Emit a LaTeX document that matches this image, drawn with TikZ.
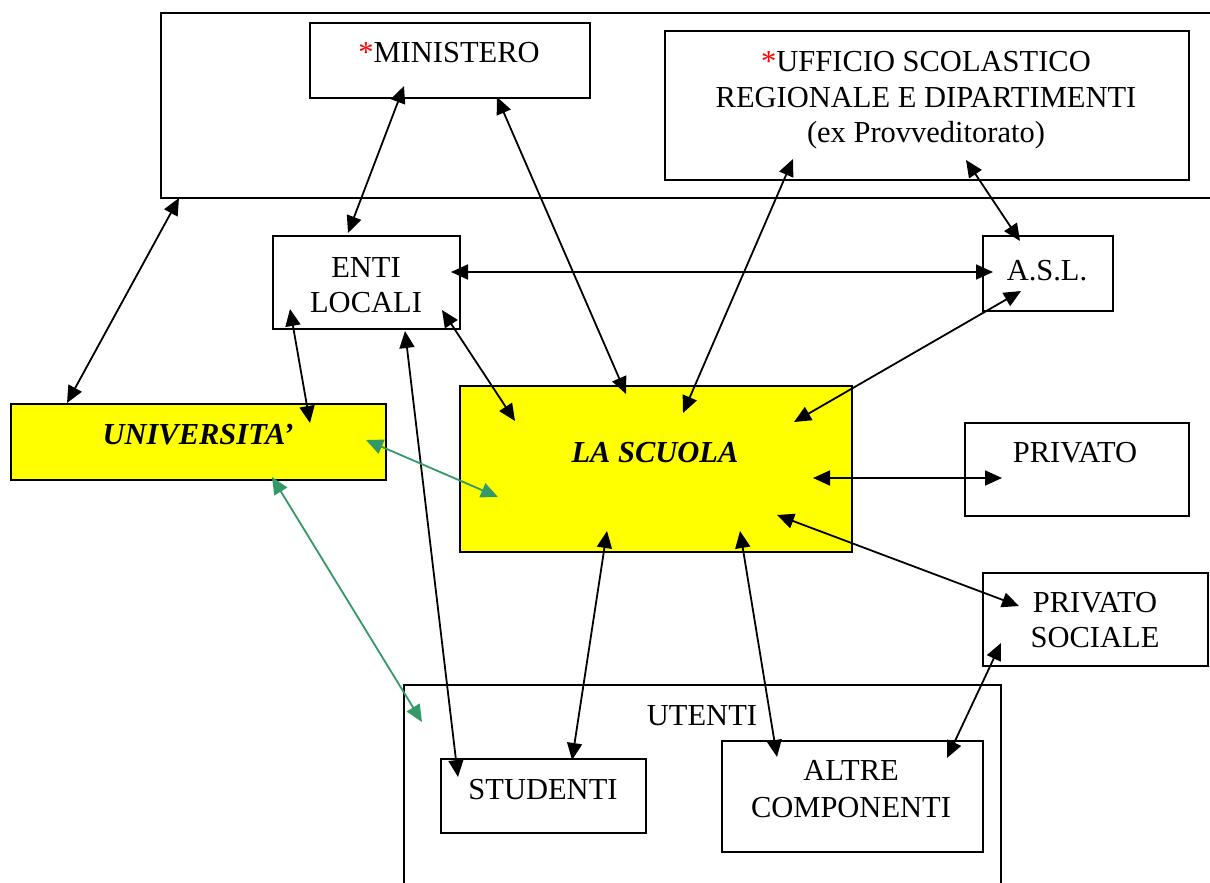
\documentclass[tikz,border=0pt]{standalone}
\usepackage{fontspec}
\setmainfont{Liberation Serif}
\usetikzlibrary{arrows.meta}
\definecolor{sgreen}{RGB}{51,153,102}
\definecolor{starred}{RGB}{255,0,0}
\definecolor{boxyellow}{RGB}{255,255,0}
\begin{document}
\begin{tikzpicture}[x=1pt,y=-1pt,
  box/.style={draw,line width=2pt,inner sep=0pt,fill=white,anchor=north west},
  ybox/.style={box,fill=boxyellow},
  txt/.style={anchor=base,inner sep=0pt,font=\fontsize{30.5}{35}\selectfont},
  btxt/.style={txt,font=\fontsize{30.5}{35}\selectfont\bfseries\itshape},
  link/.style={line width=1.8pt,{Triangle[length=17pt,width=15pt]}-{Triangle[length=17pt,width=15pt]}},
  glink/.style={link,draw=sgreen}]
\useasboundingbox (0,0) rectangle (1210,883);
% boxes
\node[box,minimum width=1070,minimum height=185] (top) at (160,12) {};
\node[box,minimum width=280,minimum height=75] (min) at (309,22) {};
\node[box,minimum width=524,minimum height=149] (uff) at (664,30) {};
\node[box,minimum width=187,minimum height=93] (enti) at (272,235) {};
\node[box,minimum width=130,minimum height=75] (asl) at (982,235) {};
\node[ybox,minimum width=375,minimum height=76] (univ) at (10,403) {};
\node[ybox,minimum width=392,minimum height=166] (scuola) at (459,385) {};
\node[box,minimum width=224,minimum height=93] (priv) at (964,422) {};
\node[box,minimum width=225,minimum height=93] (privs) at (982,572) {};
\node[box,minimum width=597,minimum height=240] (utenti) at (403,684) {};
\node[box,minimum width=205,minimum height=74] (stud) at (440,758) {};
\node[box,minimum width=261,minimum height=111] (altre) at (721,740) {};
% texts
\node[txt] (tmin) at (449,63) {\textcolor{starred}{*}MINISTERO};
\node[txt] (tuff1) at (926,71) {\textcolor{starred}{*}UFFICIO SCOLASTICO};
\node[txt] (tuff2) at (926,107) {REGIONALE E DIPARTIMENTI};
\node[txt] (tuff3) at (926,142) {(ex Provveditorato)};
\node[txt] (tenti1) at (366,277) {ENTI};
\node[txt] (tenti2) at (366,312) {LOCALI};
\node[txt] (tasl) at (1047,280) {A.S.L.};
\node[btxt] (tuniv) at (198,444) {UNIVERSITA'};
\node[btxt] (tscuola) at (655,462) {LA SCUOLA};
\node[txt] (tpriv) at (1075,462) {PRIVATO};
\node[txt] (tprivs1) at (1095,612) {PRIVATO};
\node[txt] (tprivs2) at (1095,647) {SOCIALE};
\node[txt] (tutenti) at (702,725) {UTENTI};
\node[txt] (tstud) at (543,799) {STUDENTI};
\node[txt] (taltre1) at (851,780) {ALTRE};
\node[txt] (taltre2) at (851,817) {COMPONENTI};
% connector end points
\coordinate (a1) at (404,86);  \coordinate (a2) at (348,233);
\coordinate (b1) at (497,97);  \coordinate (b2) at (626,394);
\coordinate (c1) at (793,159); \coordinate (c2) at (683,413);
\coordinate (d1) at (966,160); \coordinate (d2) at (1020,241);
\coordinate (e1) at (179,198); \coordinate (e2) at (67,403);
\coordinate (f1) at (451,272); \coordinate (f2) at (993,272);
\coordinate (g1) at (442,310); \coordinate (g2) at (515,421);
\coordinate (h1) at (290,309); \coordinate (h2) at (310,423);
\coordinate (i1) at (405,331); \coordinate (i2) at (458,777);
\coordinate (j1) at (1021,291);\coordinate (j2) at (794,422);
\coordinate (k1) at (366,440); \coordinate (k2) at (498,497);
\coordinate (l1) at (272,477); \coordinate (l2) at (422,722);
\coordinate (m1) at (813,478); \coordinate (m2) at (1002,478);
\coordinate (n1) at (777,515); \coordinate (n2) at (1019,606);
\coordinate (o1) at (607,531); \coordinate (o2) at (572,760);
\coordinate (p1) at (740,531); \coordinate (p2) at (777,757);
\coordinate (q1) at (1001,643);\coordinate (q2) at (947,758);
% connectors
\draw[link] (a1) -- (a2);
\draw[link] (b1) -- (b2);
\draw[link] (c1) -- (c2);
\draw[link] (d1) -- (d2);
\draw[link] (e1) -- (e2);
\draw[link] (f1) -- (f2);
\draw[link] (g1) -- (g2);
\draw[link] (h1) -- (h2);
\draw[link] (i1) -- (i2);
\draw[link] (j1) -- (j2);
\draw[glink] (k1) -- (k2);
\draw[glink] (l1) -- (l2);
\draw[link] (m1) -- (m2);
\draw[link] (n1) -- (n2);
\draw[link] (o1) -- (o2);
\draw[link] (p1) -- (p2);
\draw[link] (q1) -- (q2);
\end{tikzpicture}
\end{document}
